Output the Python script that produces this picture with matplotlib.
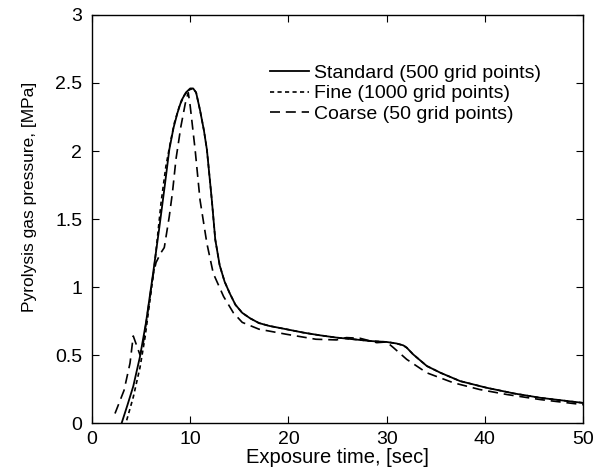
import matplotlib.pyplot as plt
import numpy as np

plt.rcParams['font.family'] = ['Liberation Sans', 'DejaVu Sans']

# Standard (500 grid points)
std_t = [3.02, 3.6, 4.2, 4.89, 5.5, 6.18, 6.86, 7.4, 7.87, 8.3, 8.7, 9.1, 9.56, 10.0, 10.3,
         10.6, 11.0, 11.4, 11.7, 12.2, 12.55, 13.0, 13.5, 14.05, 14.6, 15.3, 16.1, 17.0,
         18.05, 19.76, 21.5, 23.2, 24.9, 26.6, 28.3, 30.0, 31.0, 31.7, 32.05, 32.7, 34.1,
         35.5, 37.5, 40.2, 43.0, 45.7, 50.0]
std_p = [0.0, 0.13, 0.27, 0.49, 0.74, 1.08, 1.44, 1.74, 2.01, 2.17, 2.28, 2.37, 2.43, 2.46,
         2.46, 2.43, 2.30, 2.15, 2.01, 1.64, 1.35, 1.16, 1.04, 0.95, 0.87, 0.81, 0.77, 0.735,
         0.714, 0.69, 0.665, 0.645, 0.628, 0.616, 0.603, 0.596, 0.585, 0.571, 0.554, 0.505,
         0.419, 0.369, 0.308, 0.259, 0.217, 0.185, 0.148]

# Fine (1000 grid points)
fine_t = [3.53, 4.2, 4.89, 5.4, 5.9, 6.3, 6.6, 7.03, 7.53, 8.0, 8.4, 8.9, 9.4, 9.9, 10.3,
          10.6, 11.0, 11.4, 11.7, 12.2, 12.55, 13.0, 13.5, 14.05, 14.6, 15.3, 16.1, 17.0,
          18.05, 19.76, 21.5, 23.2, 24.9, 26.6, 28.3, 30.0, 31.0, 31.7, 32.05, 32.7, 34.1,
          35.5, 37.5, 40.2, 43.0, 45.7, 50.0]
fine_p = [0.02, 0.19, 0.41, 0.63, 0.9, 1.12, 1.32, 1.62, 1.89, 2.07, 2.21, 2.33, 2.41, 2.45,
          2.46, 2.43, 2.30, 2.15, 2.01, 1.64, 1.35, 1.16, 1.04, 0.95, 0.87, 0.81, 0.77, 0.735,
          0.714, 0.69, 0.665, 0.645, 0.628, 0.616, 0.603, 0.596, 0.585, 0.571, 0.554, 0.505,
          0.419, 0.369, 0.308, 0.259, 0.217, 0.185, 0.148]

# Coarse (50 grid points)
crs_t = [2.34, 3.26, 3.87, 4.2, 4.89, 5.22, 5.6, 6.2, 6.52, 7.0, 7.36, 7.87, 8.2, 8.55,
         9.05, 9.5, 9.8, 10.0, 10.5, 11.0, 11.7, 12.35, 13.4, 14.4, 15.3, 17.0, 19.76, 22.8,
         24.9, 25.9, 27.3, 29.0, 30.0, 30.7, 32.05, 34.1, 36.8, 39.5, 42.3, 45.7, 50.0]
crs_p = [0.07, 0.24, 0.44, 0.64, 0.50, 0.59, 0.78, 1.08, 1.18, 1.25, 1.29, 1.52, 1.70, 1.94,
         2.18, 2.35, 2.43, 2.33, 2.01, 1.64, 1.32, 1.10, 0.93, 0.81, 0.74, 0.69, 0.653,
         0.616, 0.611, 0.628, 0.623, 0.591, 0.596, 0.554, 0.468, 0.369, 0.296, 0.246, 0.209,
         0.172, 0.135]

fig = plt.figure(figsize=(6.03, 4.76), dpi=100)
ax = fig.add_axes([0.1526, 0.1113, 0.8142, 0.8572])

ax.plot(std_t, std_p, color='black', lw=1.3, ls='-', label='Standard (500 grid points)')
ax.plot(fine_t, fine_p, color='black', lw=1.2, ls=(0, (2.5, 2)), label='Fine (1000 grid points)')
ax.plot(crs_t, crs_p, color='black', lw=1.2, ls=(0, (6, 3.5)), label='Coarse (50 grid points)')

ax.set_xlim(0, 50)
ax.set_ylim(0, 3)
ax.set_xticks([0, 10, 20, 30, 40, 50])
ax.set_yticks([0, 0.5, 1, 1.5, 2, 2.5, 3])
ax.set_yticklabels(['0', '0.5', '1', '1.5', '2', '2.5', '3'])
ax.tick_params(direction='in', top=True, right=True, labelsize=14, length=5, pad=6)
ax.tick_params(axis='y', pad=7)
for s in ax.spines.values():
    s.set_linewidth(1.0)

ax.set_xlabel('Exposure time, [sec]', fontsize=14.5, labelpad=0)
ax.set_ylabel('Pyrolysis gas pressure, [MPa]', fontsize=12.5)
ax.yaxis.set_label_coords(-0.112, 0.554)

ax.legend(loc='upper right', bbox_to_anchor=(0.95, 0.922), frameon=False, fontsize=14,
          handlelength=2.0, handletextpad=0.25, labelspacing=0.15)

fig.savefig('out.png', dpi=100)
